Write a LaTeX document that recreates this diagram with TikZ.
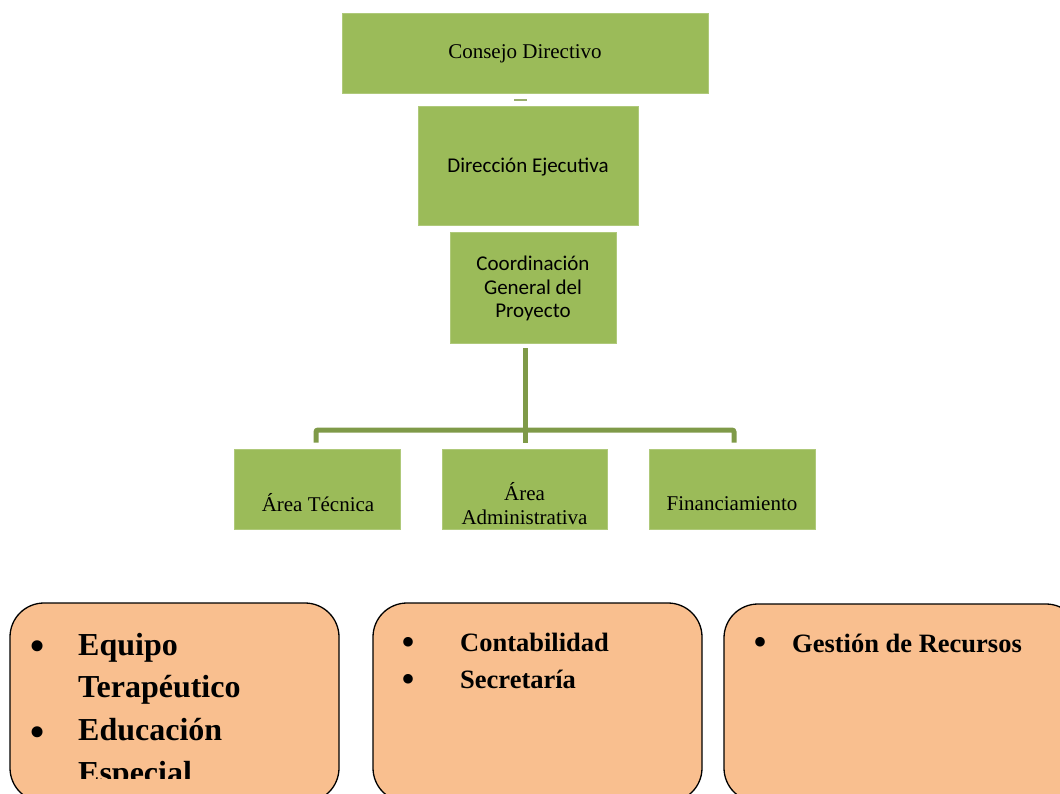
\documentclass[tikz,border=0pt]{standalone}
\usepackage{fontspec}
\setmainfont{Liberation Serif}
\newfontfamily\calibri{Carlito}
\definecolor{boxgreen}{HTML}{9BBB59}
\definecolor{linegreen}{HTML}{7F9A48}
\definecolor{boxorange}{HTML}{F9BF8F}
\begin{document}
\begin{tikzpicture}[x=1pt,y=-1pt,
  gbox/.style={rectangle,fill=boxgreen,draw=boxgreen!80!white,line width=0.6pt,inner sep=0pt},
  serif21/.style={font=\fontsize{21}{23.5}\selectfont,align=center,inner sep=0pt},
  sans21/.style={font=\calibri\fontsize{21}{23.5}\selectfont,align=center,inner sep=0pt},
  conn/.style={draw=linegreen,line width=5pt},
  obox/.style={fill=boxorange,draw=black,line width=1.3pt,rounded corners=34pt},
  bigtxt/.style={font=\bfseries\fontsize{32}{38}\selectfont,anchor=base west,inner sep=0pt},
  midtxt/.style={font=\bfseries\fontsize{26.5}{30}\selectfont,anchor=base west,inner sep=0pt},
  bigbul/.style={font=\fontsize{46}{50}\selectfont,anchor=base,inner sep=0pt},
  midbul/.style={font=\fontsize{40}{44}\selectfont,anchor=base,inner sep=0pt}]
\useasboundingbox (0,0) rectangle (1060,794);

% green boxes
\node[gbox,minimum width=366pt,minimum height=80pt] (cd) at (525,53) {};
\node[serif21] (cdt) at (525,54) {Consejo Directivo};
\node[gbox,minimum width=220pt,minimum height=119pt] (de) at (528,165.5) {};
\node[sans21] (det) at (528,167.5) {Dirección Ejecutiva};
\node[gbox,minimum width=166pt,minimum height=111pt] (cg) at (533,287.5) {};
\node[sans21] (cgt) at (533,288.5) {Coordinación\\General del\\Proyecto};

\node[gbox,minimum width=166pt,minimum height=80pt] (at) at (317,489) {};
\node[serif21] (att) at (318,503) {Área Técnica};
\node[gbox,minimum width=165pt,minimum height=80pt] (aa) at (524.5,489) {};
\node[serif21] (aat) at (524.5,503.5) {Área\\Administrativa};
\node[gbox,minimum width=166pt,minimum height=80pt] (fi) at (732,489) {};
\node[serif21] (fit) at (732,504) {Financiamiento};

% small stub under Consejo Directivo
\coordinate (s1) at (514,100);
\coordinate (s2) at (527,100);
\draw[draw=linegreen!80!white,line width=2pt] (s1) -- (s2);

% connectors
\coordinate (bus) at (525,430);
\draw[conn] ([yshift=-5pt]cg.south -| bus) -- ([yshift=6pt]aa.north -| bus);
\draw[conn,rounded corners=2pt] ([yshift=6pt]at.north -| 316,0) -- (316,430) -- (734,430) -- ([yshift=6pt]fi.north -| 734,0);

% orange boxes
\draw[obox] (10,603) rectangle (339,802);
\draw[obox] (373,603) rectangle (702,802);
\draw[obox] (724,604) rectangle (1080,802);

\begin{scope}
\clip (10,603) rectangle (339,778);
\node[bigbul] (b1) at (38,661) {•};
\node[bigtxt] (t1) at (78,655) {Equipo};
\node[bigtxt] (t2) at (78,697) {Terapéutico};
\node[bigbul] (b2) at (38,747) {•};
\node[bigtxt] (t3) at (78,740) {Educación};
\node[bigtxt] (t4) at (78,783) {Especial};
\end{scope}

\node[midbul] (b3) at (408,655) {•};
\node[midtxt] (t5) at (460,651) {Contabilidad};
\node[midbul] (b4) at (408,692) {•};
\node[midtxt] (t6) at (460,688) {Secretaría};

\node[midbul] (b5) at (760,655.5) {•};
\node[midtxt] (t7) at (792,652) {Gestión de Recursos};
\end{tikzpicture}
\end{document}
